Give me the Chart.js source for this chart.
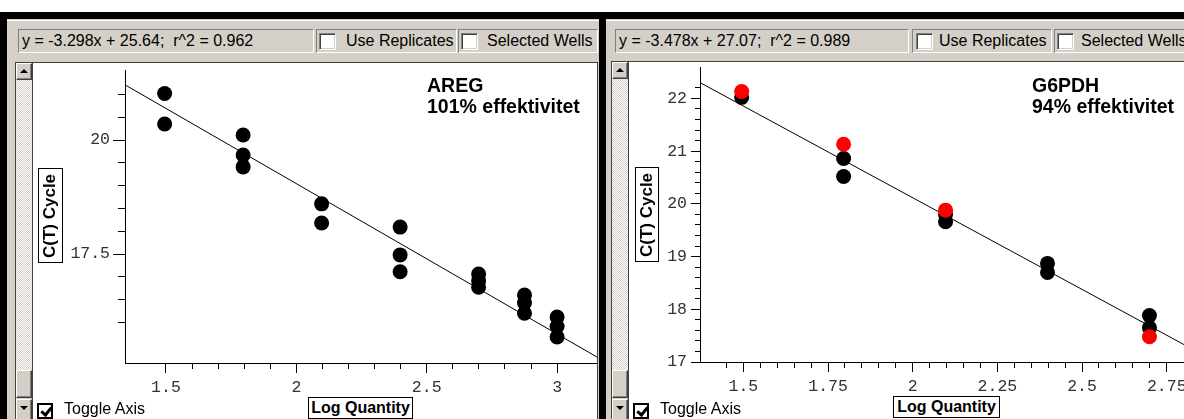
<!DOCTYPE html>
<html>
<head>
<meta charset="utf-8">
<script src="https://cdn.jsdelivr.net/npm/chart.js@4.4.1/dist/chart.umd.min.js"></script>
<style>
html,body{margin:0;padding:0}
body{width:1184px;height:419px;overflow:hidden;background:#fff;position:relative;font-family:"Liberation Sans",Arial,sans-serif;color:#000}
.a{position:absolute;box-sizing:border-box}
.g{background:#d4d0c8}
.sunk{border-top:1px solid #808080;border-left:1px solid #808080;border-bottom:1px solid #fff;border-right:1px solid #fff;background:#d4d0c8}
.cb{background:#fff;border-top:1px solid #808080;border-left:1px solid #808080;border-bottom:1px solid #fff;border-right:1px solid #fff;box-shadow:inset 1px 1px 0 #404040,inset -1px -1px 0 #d4d0c8}
.t{font-size:16px;line-height:22px;white-space:nowrap}
.btn{background:#d4d0c8;border-top:1px solid #fff;border-left:1px solid #fff;border-bottom:1px solid #404040;border-right:1px solid #404040;box-shadow:inset -1px -1px 0 #808080}
.trk{background-image:repeating-conic-gradient(#d4d0c8 0 25%,#fff 0 50%);background-size:2px 2px}
.tu{position:absolute;left:3px;top:5px;width:0;height:0;border-left:4px solid transparent;border-right:4px solid transparent;border-bottom:4px solid #000}
.td{position:absolute;left:3px;top:6px;width:0;height:0;border-left:4px solid transparent;border-right:4px solid transparent;border-top:4px solid #000}
.chk{border:2px solid #000;background:#fff}
.chk i{position:absolute;left:4px;top:0px;width:4px;height:8px;border-right:3px solid #000;border-bottom:3px solid #000;transform:rotate(40deg)}
.ytitle{border:1px solid #000;writing-mode:vertical-rl;transform:rotate(180deg);display:flex;align-items:center;justify-content:center;font-weight:bold;font-size:17px;white-space:nowrap;background:#fff}
.xtitle{border:1px solid #000;display:flex;align-items:center;justify-content:center;font-weight:bold;font-size:16px;white-space:nowrap;background:#fff}
.note{font-weight:bold;font-size:19.5px;line-height:21px;white-space:nowrap}
canvas{position:absolute}
</style>
</head>
<body>
<!-- window chrome -->
<div class="a" style="left:0;top:12px;width:1184px;height:7px;background:#000"></div>
<div class="a" style="left:0;top:12px;width:7px;height:407px;background:#000"></div>
<div class="a g" style="left:7px;top:19px;width:592px;height:400px"></div>
<div class="a" style="left:599px;top:12px;width:7px;height:407px;background:#000"></div>
<div class="a g" style="left:606px;top:19px;width:578px;height:400px"></div>
<div class="a" style="left:7px;top:20px;width:592px;height:1px;background:#fff"></div>
<div class="a" style="left:606px;top:20px;width:578px;height:1px;background:#fff"></div>

<!-- left toolbar -->
<div class="a sunk t" style="left:18px;top:29px;width:296px;height:24px;padding-left:3px">y = -3.298x + 25.64;&nbsp; r^2 = 0.962</div>
<div class="a sunk" style="left:316px;top:29px;width:141px;height:24px"></div>
<div class="a cb" style="left:319px;top:33px;width:17px;height:17px"></div>
<div class="a t" style="left:346px;top:30px">Use Replicates</div>
<div class="a sunk" style="left:458px;top:29px;width:140px;height:24px"></div>
<div class="a cb" style="left:461px;top:33px;width:17px;height:17px"></div>
<div class="a t" style="left:487px;top:30px">Selected Wells</div>

<!-- right toolbar -->
<div class="a sunk t" style="left:615px;top:29px;width:294px;height:24px;padding-left:3px">y = -3.478x + 27.07;&nbsp; r^2 = 0.989</div>
<div class="a sunk" style="left:912px;top:29px;width:140px;height:24px"></div>
<div class="a cb" style="left:916px;top:33px;width:17px;height:17px"></div>
<div class="a t" style="left:939px;top:30px">Use Replicates</div>
<div class="a sunk" style="left:1054px;top:29px;width:150px;height:24px"></div>
<div class="a cb" style="left:1057px;top:33px;width:17px;height:17px"></div>
<div class="a t" style="left:1081px;top:30px">Selected Wells</div>

<!-- left plot frame -->
<div class="a" style="left:15px;top:62px;width:583px;height:357px;border-top:1px solid #404040;border-left:1px solid #404040;border-right:1px solid #404040;background:#fff"></div>
<div class="a" style="left:32px;top:63px;width:1px;height:356px;background:#404040"></div>
<div class="a btn" style="left:16px;top:63px;width:16px;height:17px"><span class="tu"></span></div>
<div class="a trk" style="left:16px;top:80px;width:16px;height:290px"></div>
<div class="a btn" style="left:16px;top:370px;width:16px;height:28px"></div>
<div class="a g" style="left:16px;top:398px;width:16px;height:1px"></div>
<div class="a btn" style="left:16px;top:399px;width:16px;height:22px"><span class="td"></span></div>

<!-- right plot frame -->
<div class="a" style="left:611px;top:61px;width:600px;height:358px;border-top:1px solid #404040;border-left:1px solid #404040;background:#fff"></div>
<div class="a" style="left:628px;top:62px;width:1px;height:357px;background:#404040"></div>
<div class="a btn" style="left:612px;top:62px;width:16px;height:17px"><span class="tu"></span></div>
<div class="a trk" style="left:612px;top:79px;width:16px;height:291px"></div>
<div class="a btn" style="left:612px;top:370px;width:16px;height:28px"></div>
<div class="a g" style="left:612px;top:398px;width:16px;height:1px"></div>
<div class="a btn" style="left:612px;top:399px;width:16px;height:22px"><span class="td"></span></div>

<canvas id="areg" width="564" height="356" style="left:33px;top:63px;width:564px;height:356px"></canvas>
<canvas id="g6pdh" width="555" height="357" style="left:629px;top:62px;width:555px;height:357px"></canvas>

<!-- overlays -->
<div class="a note" style="left:427px;top:75px">AREG<br>101% effektivitet</div>
<div class="a note" style="left:1032px;top:75px">G6PDH<br>94% effektivitet</div>
<div class="a ytitle" style="left:38px;top:168px;width:25px;height:95px">C(T) Cycle</div>
<div class="a ytitle" style="left:635px;top:167px;width:24px;height:95px">C(T) Cycle</div>
<div class="a xtitle" style="left:308px;top:397px;width:105px;height:22px">Log Quantity</div>
<div class="a xtitle" style="left:893px;top:396px;width:107px;height:22px">Log Quantity</div>
<div class="a chk" style="left:37px;top:403px;width:16px;height:16px"><i></i></div>
<div class="a t" style="left:64px;top:398px">Toggle Axis</div>
<div class="a chk" style="left:633px;top:403px;width:16px;height:16px"><i></i></div>
<div class="a t" style="left:660px;top:398px">Toggle Axis</div>

<script>
// ---- AREG standard curve ----
const aregLogQty = [1.495,1.495,1.796,1.796,1.796,2.097,2.097,2.398,2.398,2.398,2.699,2.699,2.699,2.875,2.875,2.875,3.0,3.0,3.0];
const aregCt     = [21.02,20.35,20.11,19.67,19.41,18.60,18.18,18.09,17.48,17.11,17.06,16.91,16.77,16.60,16.43,16.20,16.12,15.91,15.68];
const aregFitX   = [1.343, 3.153];
const aregFitY   = [21.21, 15.24];
const aregXTicks = ['1.5','2','2.5','3'];
const aregYTicks = ['17.5','20'];

// ---- G6PDH standard curve ----
const g6pdhLogQty        = [1.495,1.796,1.796,2.097,2.097,2.398,2.398,2.699,2.699];
const g6pdhCt            = [22.02,20.86,20.52,19.80,19.66,18.87,18.70,17.88,17.65];
const g6pdhOutlierLogQty = [1.495,1.796,2.097,2.699];
const g6pdhOutlierCt     = [22.13,21.13,19.88,17.48];
const g6pdhFitX   = [1.372, 2.801];
const g6pdhFitY   = [22.30, 17.33];
const g6pdhXTicks = ['1.5','1.75','2','2.25','2.5','2.75'];
const g6pdhYTicks = ['17','18','19','20','21','22'];

const pts = (xs, ys) => xs.map((x, i) => ({x, y: ys[i]}));
const fmt = v => String(Math.round(v * 1000) / 1000);
const tickVal = c => (c && c.tick) ? c.tick.value : NaN;
const onStep = (v, step) => Math.abs(v / step - Math.round(v / step)) < 1e-6;
const tickFont = {family: '"Liberation Mono", "Courier New", monospace', size: 16.5};

function build(id, cfg) {
  const datasets = [
    {data: pts(cfg.fitX, cfg.fitY), showLine: true, borderColor: '#000', borderWidth: 1, pointRadius: 0, order: 3},
    {data: pts(cfg.xs, cfg.ys), backgroundColor: '#000', borderWidth: 0, pointRadius: 7.5, order: 2}
  ];
  if (cfg.rx) datasets.push({data: pts(cfg.rx, cfg.ry), backgroundColor: '#ff0000', borderWidth: 0, pointRadius: 7.5, order: 1});
  const xMaj = c => cfg.xLabels.includes(fmt(tickVal(c)));
  const yMaj = c => cfg.yLabels.includes(fmt(tickVal(c)));
  new Chart(document.getElementById(id), {
    type: 'scatter',
    data: {datasets},
    options: {
      responsive: false, animation: false, events: [],
      layout: {autoPadding: false, padding: {top: cfg.padTop, left: 0, right: 0, bottom: 0}},
      plugins: {legend: {display: false}, tooltip: {enabled: false}},
      scales: {
        x: {
          type: 'linear', position: 'bottom', min: cfg.xMin, max: cfg.xMax,
          border: {display: true, color: '#000', width: 1},
          grid: {
            drawOnChartArea: false, drawTicks: true, tickLength: cfg.xTl, tickWidth: 1,
            tickColor: c => onStep(tickVal(c), cfg.xStep) ? '#000' : 'rgba(0,0,0,0)',
            tickBorderDash: c => xMaj(c) ? [] : [cfg.xMinor, 100]
          },
          ticks: {
            stepSize: cfg.xStep, autoSkip: false, maxRotation: 0, minRotation: 0,
            padding: 5, color: '#333', font: tickFont,
            callback: v => cfg.xLabels.includes(fmt(v)) ? fmt(v) : ''
          },
          afterFit: s => { s.height = cfg.xH; s.paddingLeft = 0; s.paddingRight = 0; }
        },
        y: {
          type: 'linear', position: 'left', min: cfg.yMin, max: cfg.yMax,
          border: {display: true, color: '#000', width: 1},
          grid: {
            drawOnChartArea: false, drawTicks: true, tickLength: cfg.yTl, tickWidth: 1,
            tickColor: c => onStep(tickVal(c), cfg.yStep) ? '#000' : 'rgba(0,0,0,0)',
            tickBorderDash: c => yMaj(c) ? [] : [cfg.yMinor, cfg.yTl - cfg.yMinor],
            tickBorderDashOffset: c => yMaj(c) ? 0 : cfg.yMinor
          },
          ticks: {
            stepSize: cfg.yStep, autoSkip: false,
            padding: cfg.yPad, color: '#333', font: tickFont,
            callback: v => cfg.yLabels.includes(fmt(v)) ? fmt(v) : ''
          },
          afterFit: s => { s.width = cfg.yW; s.paddingTop = 0; s.paddingBottom = 0; }
        }
      }
    }
  });
}

build('areg', {
  xs: aregLogQty, ys: aregCt, fitX: aregFitX, fitY: aregFitY,
  xLabels: aregXTicks, yLabels: aregYTicks,
  xMin: 1.343, xMax: 3.153, xStep: 0.1, xTl: 10, xMinor: 5, xH: 56,
  yMin: 15.11, yMax: 21.535, yStep: 0.5, yTl: 12, yMinor: 7, yW: 92, yPad: 3,
  padTop: 7
});

build('g6pdh', {
  xs: g6pdhLogQty, ys: g6pdhCt, rx: g6pdhOutlierLogQty, ry: g6pdhOutlierCt,
  fitX: g6pdhFitX, fitY: g6pdhFitY,
  xLabels: g6pdhXTicks, yLabels: g6pdhYTicks,
  xMin: 1.372, xMax: 2.801, xStep: 0.05, xTl: 10, xMinor: 5, xH: 57,
  yMin: 17, yMax: 22.596, yStep: 0.2, yTl: 9, yMinor: 5, yW: 71, yPad: 4,
  padTop: 5
});
</script>
</body>
</html>
